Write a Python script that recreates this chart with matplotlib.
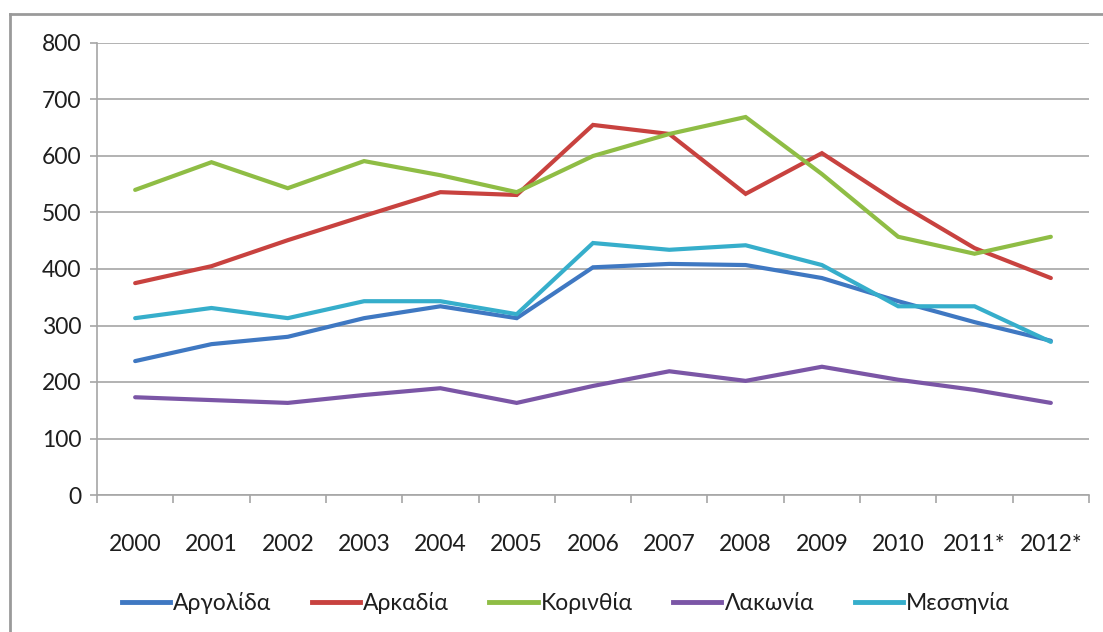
import matplotlib.pyplot as plt
from matplotlib.lines import Line2D
from matplotlib.ticker import FixedLocator

plt.rcParams['font.family'] = ['Lato', 'DejaVu Sans']

years = ['2000', '2001', '2002', '2003', '2004', '2005', '2006',
         '2007', '2008', '2009', '2010', '2011*', '2012*']

argolida = [237, 267, 280, 313, 334, 313, 403, 409, 407, 384, 343, 306, 273]
arkadia = [375, 405, 451, 494, 536, 531, 655, 639, 533, 605, 517, 437, 384]
korinthia = [540, 589, 543, 591, 566, 536, 600, 639, 669, 568, 457, 427, 457]
lakonia = [173, 168, 163, 177, 189, 163, 193, 219, 202, 227, 204, 186, 163]
messinia = [313, 331, 313, 343, 343, 320, 446, 434, 442, 407, 334, 334, 271]

series = [
    ('Αργολίδα', argolida, '#3f78c2'),
    ('Αρκαδία', arkadia, '#c8423f'),
    ('Κορινθία', korinthia, '#8fbd45'),
    ('Λακωνία', lakonia, '#7b56a6'),
    ('Μεσσηνία', messinia, '#36aecb'),
]

fig = plt.figure(figsize=(11.03, 6.32), dpi=100)
ax = fig.add_axes([97 / 1103, 1 - 495 / 632, (1089 - 97) / 1103, (495 - 43) / 632])

grid_col = '#a6a6a6'
text_col = '#1e1e1e'
x = list(range(len(years)))
for name, vals, col in series:
    ax.plot(x, vals, color=col, lw=3.0, label=name, solid_capstyle='round',
            solid_joinstyle='miter')

ax.set_xlim(-0.5, len(years) - 0.5)
ax.set_ylim(0, 800)
ax.set_yticks(range(0, 801, 100))
ax.set_xticks(x)
ax.set_xticklabels(years)
ax.xaxis.set_minor_locator(FixedLocator([i - 0.5 for i in range(len(years) + 1)]))

ax.grid(axis='y', color=grid_col, lw=1.2)
ax.set_axisbelow(True)
for s in ['top', 'right']:
    ax.spines[s].set_visible(False)
for s in ['left', 'bottom']:
    ax.spines[s].set_color(grid_col)
    ax.spines[s].set_linewidth(1.2)

ax.tick_params(axis='y', length=5, width=1.2, color=grid_col, pad=6,
               labelsize=16.5, labelcolor=text_col)
ax.tick_params(axis='x', which='major', length=0, pad=28,
               labelsize=16.5, labelcolor=text_col)
ax.tick_params(axis='x', which='minor', length=6, width=1.2, color=grid_col)

handles = [Line2D([], [], color=c, lw=3.5) for _, _, c in series]
fig.legend(handles, [n for n, _, _ in series], loc='center',
           bbox_to_anchor=(0.513, 1 - 603 / 632), ncol=5, frameon=False,
           fontsize=16.5, handlelength=2.1, handletextpad=0.15,
           columnspacing=1.75, labelcolor=text_col)

# outer chart frame
fig.add_artist(Line2D([10 / 1103, 10 / 1103], [0, 1 - 14 / 632],
                      transform=fig.transFigure, color='#9a9a9a', lw=2))
fig.add_artist(Line2D([10 / 1103, 1], [1 - 14 / 632, 1 - 14 / 632],
                      transform=fig.transFigure, color='#9a9a9a', lw=2))

fig.savefig('out.png', dpi=100)
